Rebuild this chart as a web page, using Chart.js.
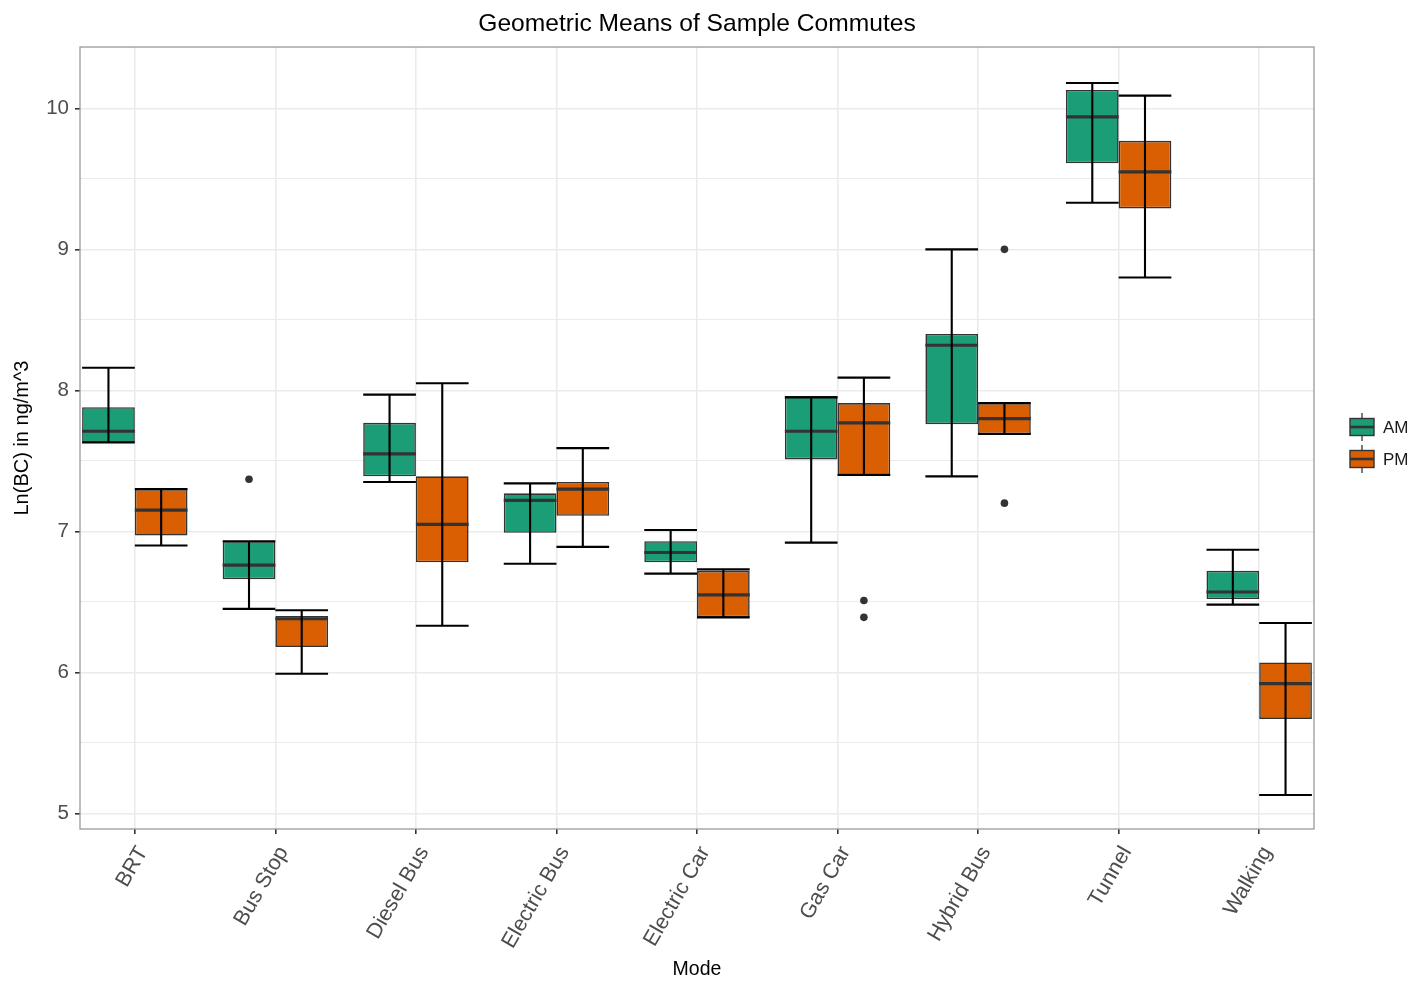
<!DOCTYPE html>
<html>
<head>
<meta charset="utf-8">
<title>Geometric Means of Sample Commutes</title>
<script src="https://cdn.jsdelivr.net/npm/chart.js@4.4.1/dist/chart.umd.min.js"></script>
<style>
  html, body { margin: 0; padding: 0; background: #ffffff; }
  #wrap { width: 1411px; height: 983px; }
</style>
</head>
<body>
<div id="wrap"><canvas id="chart" width="1411" height="983"></canvas></div>
<script>
// ---- data: Ln(BC) in ng/m^3 per commute mode ----
const modes = ['BRT', 'Bus Stop', 'Diesel Bus', 'Electric Bus', 'Electric Car',
               'Gas Car', 'Hybrid Bus', 'Tunnel', 'Walking'];
const yTickValues = [5, 6, 7, 8, 9, 10];

// AM commutes
const amLow      = [7.63, 6.45, 7.35, 6.77, 6.70, 6.92, 7.39, 9.33, 6.48];
const amQ1       = [7.63, 6.66, 7.39, 6.99, 6.78, 7.51, 7.76, 9.61, 6.52];
const amMedian   = [7.71, 6.76, 7.55, 7.22, 6.85, 7.71, 8.32, 9.94, 6.57];
const amQ3       = [7.88, 6.93, 7.77, 7.27, 6.93, 7.96, 8.40, 10.13, 6.72];
const amHigh     = [8.16, 6.93, 7.97, 7.34, 7.01, 7.95, 9.00, 10.18, 6.87];
const amOutliers = [[], [7.37], [], [], [], [], [], [], []];

// PM commutes
const pmLow      = [6.90, 5.99, 6.33, 6.89, 6.39, 7.40, 7.69, 8.80, 5.13];
const pmQ1       = [6.97, 6.18, 6.78, 7.11, 6.39, 7.40, 7.69, 9.29, 5.67];
const pmMedian   = [7.15, 6.38, 7.05, 7.30, 6.55, 7.77, 7.80, 9.55, 5.92];
const pmQ3       = [7.30, 6.40, 7.39, 7.35, 6.72, 7.91, 7.91, 9.77, 6.07];
const pmHigh     = [7.30, 6.44, 8.05, 7.59, 6.73, 8.09, 7.91, 10.09, 6.35];
const pmOutliers = [[], [], [], [], [], [6.51, 6.39], [9.00, 7.20], [], []];

const seriesNames = ['AM', 'PM'];
const seriesColors = ['#1B9E77', '#D95F02'];

// ---- styling ----
const FONT = "'Liberation Sans', Arial, Helvetica, sans-serif";
const GRID = '#EBEBEB';
const OUTLINE = '#333333';

const stats = [
  { low: amLow, median: amMedian, high: amHigh, outliers: amOutliers },
  { low: pmLow, median: pmMedian, high: pmHigh, outliers: pmOutliers }
];

function boxData(q1, q3) {
  return modes.map((m, i) => ({ x: i, y: [q1[i], q3[i]] }));
}

// medians, error-bar whiskers, outliers, panel border and legend
const boxplotExtras = {
  id: 'boxplotExtras',
  afterDatasetsDraw(chart) {
    const { ctx, chartArea: a } = chart;
    const ys = chart.scales.y;
    ctx.save();
    ctx.beginPath();
    ctx.rect(a.left, a.top, a.right - a.left, a.bottom - a.top);
    ctx.clip();
    chart.data.datasets.forEach((ds, d) => {
      const meta = chart.getDatasetMeta(d);
      const s = stats[d];
      meta.data.forEach((bar, i) => {
        const x = bar.x;
        const half = bar.width / 2;
        // median
        const ym = ys.getPixelForValue(s.median[i]);
        ctx.strokeStyle = OUTLINE;
        ctx.lineWidth = 3.2;
        ctx.beginPath();
        ctx.moveTo(x - half, ym);
        ctx.lineTo(x + half, ym);
        ctx.stroke();
        // whiskers drawn as an error bar
        const yl = ys.getPixelForValue(s.low[i]);
        const yh = ys.getPixelForValue(s.high[i]);
        ctx.strokeStyle = '#000000';
        ctx.lineWidth = 2.1;
        ctx.beginPath();
        ctx.moveTo(x, yl); ctx.lineTo(x, yh);
        ctx.moveTo(x - half, yl); ctx.lineTo(x + half, yl);
        ctx.moveTo(x - half, yh); ctx.lineTo(x + half, yh);
        ctx.stroke();
        // outliers
        ctx.fillStyle = OUTLINE;
        s.outliers[i].forEach(v => {
          ctx.beginPath();
          ctx.arc(x, ys.getPixelForValue(v), 3.8, 0, Math.PI * 2);
          ctx.fill();
        });
      });
    });
    ctx.restore();

    // panel border
    ctx.save();
    ctx.strokeStyle = '#9a9a9a';
    ctx.lineWidth = 1.3;
    ctx.strokeRect(a.left, a.top, a.right - a.left, a.bottom - a.top);
    ctx.restore();
  },
  afterDraw(chart) {
    const { ctx, chartArea: a } = chart;
    ctx.save();
    const keyX = a.right + 36;
    const keyW = 24;
    const mid = (a.top + a.bottom) / 2;
    chart.data.datasets.forEach((ds, d) => {
      const cy = mid + 5 + (d - 0.5) * 32;
      const top = cy - 8.5, bot = cy + 8.5;
      // whisker
      ctx.strokeStyle = OUTLINE;
      ctx.lineWidth = 1.3;
      ctx.beginPath();
      ctx.moveTo(keyX + keyW / 2, cy - 14);
      ctx.lineTo(keyX + keyW / 2, cy + 14);
      ctx.stroke();
      // box
      ctx.fillStyle = ds.backgroundColor;
      ctx.fillRect(keyX, top, keyW, bot - top);
      ctx.strokeStyle = OUTLINE;
      ctx.lineWidth = 1.4;
      ctx.strokeRect(keyX, top, keyW, bot - top);
      // median
      ctx.lineWidth = 2.6;
      ctx.beginPath();
      ctx.moveTo(keyX, cy); ctx.lineTo(keyX + keyW, cy);
      ctx.stroke();
      // label
      ctx.fillStyle = '#1A1A1A';
      ctx.font = `17px ${FONT}`;
      ctx.textAlign = 'left';
      ctx.textBaseline = 'middle';
      ctx.fillText(ds.label, keyX + keyW + 9, cy + 1);
    });
    ctx.restore();
  }
};

const majorTick = v => yTickValues.includes(v);

new Chart(document.getElementById('chart'), {
  type: 'bar',
  data: {
    datasets: seriesNames.map((name, d) => ({
      label: name,
      data: d === 0 ? boxData(amQ1, amQ3) : boxData(pmQ1, pmQ3),
      backgroundColor: seriesColors[d],
      borderColor: OUTLINE,
      borderWidth: 1.6,
      borderSkipped: false,
      categoryPercentage: 0.75,
      barPercentage: 1.0
    }))
  },
  options: {
    responsive: false,
    devicePixelRatio: 1,
    animation: false,
    layout: { padding: { left: 0, right: 97, top: 0, bottom: 0 } },
    plugins: {
      legend: { display: false },
      tooltip: { enabled: false },
      title: {
        display: true,
        fullSize: false,
        text: 'Geometric Means of Sample Commutes',
        color: '#000000',
        font: { family: FONT, size: 24.6, weight: 'normal' },
        padding: { top: 9.5, bottom: 8 }
      }
    },
    scales: {
      x: {
        type: 'linear',
        min: -0.39,
        max: 8.39,
        offset: false,
        afterBuildTicks(scale) {
          scale.ticks = modes.map((m, i) => ({ value: i }));
        },
        afterFit(scale) { scale.height = 154; },
        grid: {
          offset: false,
          color: GRID,
          lineWidth: 1.6,
          tickColor: OUTLINE,
          tickLength: 5,
          drawTicks: true
        },
        border: { display: false },
        ticks: {
          autoSkip: false,
          minRotation: 60,
          maxRotation: 60,
          padding: 2,
          labelOffset: 8,
          color: '#4D4D4D',
          font: { family: FONT, size: 21.5, lineHeight: 2.3 },
          callback: v => modes[v]
        },
        title: {
          display: true,
          text: 'Mode',
          color: '#000000',
          font: { family: FONT, size: 19.5 },
          padding: { top: 0, bottom: 2 }
        }
      },
      y: {
        type: 'linear',
        min: 4.889,
        max: 10.435,
        afterBuildTicks(scale) {
          const t = [];
          yTickValues.forEach((v, i) => {
            t.push({ value: v });
            if (i < yTickValues.length - 1) t.push({ value: (v + yTickValues[i + 1]) / 2 });
          });
          scale.ticks = t.sort((p, q) => p.value - q.value);
        },
        afterFit(scale) { scale.width = 80; },
        grid: {
          color: GRID,
          lineWidth: c => (majorTick(c.tick && c.tick.value) ? 1.6 : 1.1),
          tickColor: c => (majorTick(c.tick && c.tick.value) ? OUTLINE : 'rgba(0,0,0,0)'),
          tickLength: 5
        },
        border: { display: false },
        ticks: {
          padding: 6,
          color: '#4D4D4D',
          font: { family: FONT, size: 20.5 },
          callback: v => (majorTick(v) ? String(v) : '')
        },
        title: {
          display: true,
          text: 'Ln(BC) in ng/m^3',
          color: '#000000',
          font: { family: FONT, size: 20 },
          padding: { top: 10, bottom: 0 }
        }
      }
    }
  },
  plugins: [boxplotExtras]
});
</script>
</body>
</html>
